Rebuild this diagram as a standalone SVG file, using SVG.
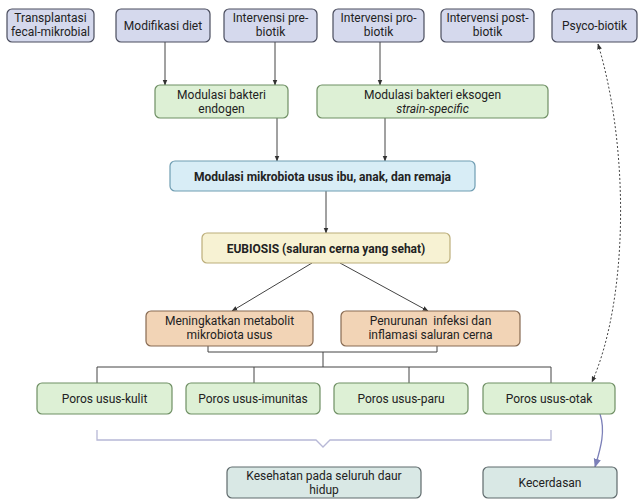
<svg xmlns="http://www.w3.org/2000/svg" width="641" height="499" viewBox="0 0 641 499">
  <defs>
    <marker id="arr" viewBox="0 0 10 10" refX="9" refY="5" markerWidth="6" markerHeight="6" orient="auto-start-reverse">
      <path d="M0,1 L10,5 L0,9 z" fill="#333"/>
    </marker>
    <marker id="arrP" viewBox="0 0 10 10" refX="9" refY="5" markerWidth="7" markerHeight="7" orient="auto">
      <path d="M0,1 L10,5 L0,9 z" fill="#7c80b8"/>
    </marker>
    <style>
      text { font-family: Roboto, "Liberation Sans", sans-serif; font-size: 12px; fill: #222; text-anchor: middle; }
      .b { font-weight: bold; }
      .i { font-style: italic; }
      rect { stroke-width: 1.2; }
      .src { fill: #d5d9ed; stroke: #4a4d5e; }
      .grn { fill: #ddf0d5; stroke: #6f8f64; }
      .blu { fill: #d8edf6; stroke: #6f9db2; }
      .yel { fill: #f7f2d3; stroke: #bcae7a; }
      .org { fill: #f2d4b6; stroke: #876a52; }
      .out { fill: #d9e8e5; stroke: #5f6a6c; }
      .ln { fill: none; stroke: #444; stroke-width: 1; }
      .br { fill: none; stroke: #b7b8d6; stroke-width: 1.3; }
    </style>
  </defs>

  <!-- connectors -->
  <g id="connectors">
    <line class="ln" x1="165" y1="42" x2="165" y2="85" marker-end="url(#arr)"/>
    <line class="ln" x1="275" y1="42" x2="275" y2="85" marker-end="url(#arr)"/>
    <line class="ln" x1="380" y1="42" x2="380" y2="85" marker-end="url(#arr)"/>
    <line class="ln" x1="277" y1="118" x2="277" y2="161" marker-end="url(#arr)"/>
    <line class="ln" x1="385" y1="118" x2="385" y2="161" marker-end="url(#arr)"/>
    <line class="ln" x1="326" y1="191" x2="326" y2="233" marker-end="url(#arr)"/>
    <line class="ln" x1="312" y1="263" x2="232" y2="311" marker-end="url(#arr)"/>
    <line class="ln" x1="340" y1="263" x2="428" y2="311" marker-end="url(#arr)"/>
    <!-- tree from effects to axes -->
    <path class="ln" d="M208,346 V352 H437 V346 M323,352 V367 M97,383 V367 H551 V383 M254,367 V383 M409,367 V383"/>
    <!-- psychobiotic link -->
    <path class="ln" d="M598,44 C630,150 628,300 592,382" stroke-dasharray="2,2" marker-start="url(#arr)" marker-end="url(#arr)"/>
    <!-- gut-brain to intelligence -->
    <path d="M600,414 C606,432 600,450 595,467" fill="none" stroke="#7c80b8" stroke-width="1.3" marker-end="url(#arrP)"/>
    <!-- brace over the four axes -->
    <path class="br" d="M97,430 V440 H316 L323,447 L330,440 H551 V430"/>
  </g>

  <g id="transplantasi">
    <rect class="src" x="7" y="9" width="87" height="33" rx="5"/>
    <text x="50.5" y="22">Transplantasi</text>
    <text x="50.5" y="36">fecal-mikrobial</text>
  </g>
  <g id="modifikasi-diet">
    <rect class="src" x="116" y="9" width="94" height="33" rx="5"/>
    <text x="163" y="30">Modifikasi diet</text>
  </g>
  <g id="prebiotik">
    <rect class="src" x="224" y="9" width="93" height="33" rx="5"/>
    <text x="270.5" y="22">Intervensi pre-</text>
    <text x="270.5" y="36">biotik</text>
  </g>
  <g id="probiotik">
    <rect class="src" x="333" y="9" width="91" height="33" rx="5"/>
    <text x="378.5" y="22">Intervensi pro-</text>
    <text x="378.5" y="36">biotik</text>
  </g>
  <g id="postbiotik">
    <rect class="src" x="441" y="9" width="93" height="33" rx="5"/>
    <text x="487.5" y="22">Intervensi post-</text>
    <text x="487.5" y="36">biotik</text>
  </g>
  <g id="psycobiotik">
    <rect class="src" x="552" y="9" width="85" height="33" rx="5"/>
    <text x="594.5" y="30">Psyco-biotik</text>
  </g>

  <g id="endogen">
    <rect class="grn" x="155" y="85" width="133" height="33" rx="5"/>
    <text x="221.5" y="99">Modulasi bakteri</text>
    <text x="221.5" y="113">endogen</text>
  </g>
  <g id="eksogen">
    <rect class="grn" x="317" y="85" width="231" height="33" rx="5"/>
    <text x="432.5" y="99">Modulasi bakteri eksogen</text>
    <text class="i" x="432.5" y="113">strain-specific</text>
  </g>

  <g id="modulasi">
    <rect class="blu" x="170" y="161" width="305" height="30" rx="5"/>
    <text class="b" x="322.5" y="180.5">Modulasi mikrobiota usus ibu, anak, dan remaja</text>
  </g>

  <g id="eubiosis">
    <rect class="yel" x="202" y="233" width="248" height="30" rx="5"/>
    <text class="b" x="326" y="252.5">EUBIOSIS (saluran cerna yang sehat)</text>
  </g>

  <g id="metabolit">
    <rect class="org" x="146" y="311" width="167" height="35" rx="5"/>
    <text x="229.5" y="325">Meningkatkan metabolit</text>
    <text x="229.5" y="339">mikrobiota usus</text>
  </g>
  <g id="inflamasi">
    <rect class="org" x="341" y="311" width="179" height="35" rx="5"/>
    <text x="430.5" y="325" xml:space="preserve">Penurunan  infeksi dan</text>
    <text x="430.5" y="339">inflamasi saluran cerna</text>
  </g>

  <g id="kulit">
    <rect class="grn" x="37" y="383" width="135" height="31" rx="5"/>
    <text x="104.5" y="403">Poros usus-kulit</text>
  </g>
  <g id="imunitas">
    <rect class="grn" x="186" y="383" width="134" height="31" rx="5"/>
    <text x="253" y="403">Poros usus-imunitas</text>
  </g>
  <g id="paru">
    <rect class="grn" x="334" y="383" width="134" height="31" rx="5"/>
    <text x="401" y="403">Poros usus-paru</text>
  </g>
  <g id="otak">
    <rect class="grn" x="483" y="383" width="132" height="31" rx="5"/>
    <text x="549" y="403">Poros usus-otak</text>
  </g>

  <g id="kesehatan">
    <rect class="out" x="227" y="467" width="194" height="31" rx="5"/>
    <text x="324" y="480">Kesehatan pada seluruh daur</text>
    <text x="324" y="494">hidup</text>
  </g>
  <g id="kecerdasan">
    <rect class="out" x="483" y="467" width="134" height="31" rx="5"/>
    <text x="550" y="487">Kecerdasan</text>
  </g>
</svg>
